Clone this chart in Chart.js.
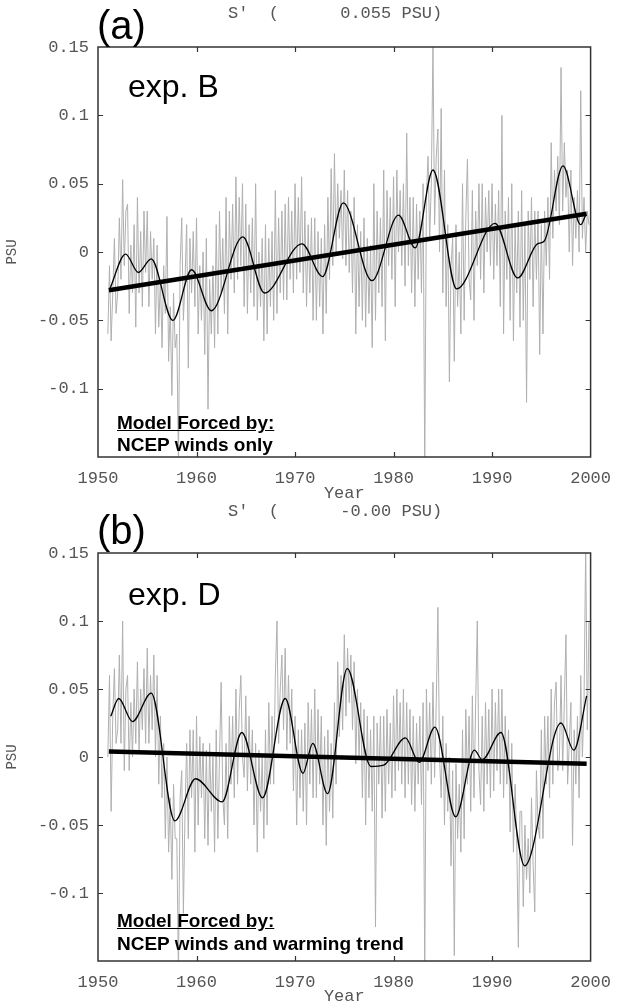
<!DOCTYPE html>
<html><head><meta charset="utf-8">
<script src="https://cdn.jsdelivr.net/npm/chart.js@4.4.0/dist/chart.umd.min.js"></script>
<style>
html,body{margin:0;padding:0;background:#fff}
body{width:622px;height:1007px;overflow:hidden;position:relative;font-family:"Liberation Sans",Arial,sans-serif}
.pan{position:absolute;left:0;width:622px}
canvas{display:block}
.t{position:absolute;white-space:pre;line-height:1;color:#000}
.mono{font-family:"Liberation Mono","Courier New",monospace;color:#555}
.big{font-size:40px}
.exp{font-size:32px}
.mf{font-size:19px;font-weight:bold}
.u{text-decoration:underline}
</style></head><body>
<div class="pan" style="top:0;height:504px"><canvas id="ca" width="622" height="504"></canvas></div>
<div class="pan" style="top:503px;height:504px"><canvas id="cb" width="622" height="504"></canvas></div>

<div class="t big" style="left:97px;top:5px">(a)</div>
<div class="t mono" style="left:228px;top:5px;font-size:17px">S'  (      0.055 PSU)</div>
<div class="t exp" style="left:128px;top:70px">exp. B</div>
<div class="t mf u" style="left:117px;top:413px">Model Forced by:</div>
<div class="t mf" style="left:117px;top:435px">NCEP winds only</div>

<div class="t big" style="left:97px;top:510px">(b)</div>
<div class="t mono" style="left:228px;top:503px;font-size:17px">S'  (      -0.00 PSU)</div>
<div class="t exp" style="left:128px;top:578px">exp. D</div>
<div class="t mf u" style="left:117px;top:911px">Model Forced by:</div>
<div class="t mf" style="left:117px;top:934px">NCEP winds and warming trend</div>

<script>
// ---------- data ----------
const xTickValues = [1950, 1960, 1970, 1980, 1990, 2000];
const xTickLabels = ['1950', '1960', '1970', '1980', '1990', '2000'];
const yTickValues = [-0.15, -0.1, -0.05, 0, 0.05, 0.1, 0.15];
const yTickLabels = ['', '-0.1', '-0.05', '0', '0.05', '0.1', '0.15'];

const grayStartYear = 1951;
const grayStepYears = 1 / 6;   // bimonthly samples, one row per year

const grayA = [
 -0.060,-0.010,-0.065,-0.030, 0.010,-0.045,
 -0.030, 0.025,-0.020, 0.053,-0.010, 0.030,
  0.035,-0.045, 0.005,-0.030, 0.020,-0.055,
  0.040,-0.030, 0.015,-0.040, 0.030,-0.015,
  0.030,-0.040, 0.015,-0.020, 0.010,-0.060,
  0.005,-0.055,-0.020,-0.070,-0.010,-0.045,
  0.026,-0.080,-0.040,-0.105,-0.030,-0.070,
 -0.060,-0.155,-0.010, 0.025,-0.050,-0.020,
  0.020,-0.085, 0.010,-0.030, 0.015,-0.040,
  0.025,-0.060,-0.010,-0.050, 0.000,-0.075,
  0.010,-0.115,-0.020,-0.060,-0.010,-0.070,
  0.020,-0.060, 0.030,-0.030, 0.010,-0.045,
  0.040,-0.060, 0.030,-0.020, 0.035,-0.030,
  0.055,-0.020, 0.040,-0.010, 0.050,-0.040,
  0.035,-0.045, 0.020,-0.030, 0.025,-0.040,
  0.050,-0.050, 0.000,-0.040, 0.010,-0.065,
  0.020,-0.060, 0.010,-0.040, 0.015,-0.050,
  0.045,-0.045, 0.025,-0.030, 0.030,-0.035,
  0.035,-0.035, 0.040,-0.020, 0.030,-0.030,
  0.050,-0.020, 0.040,-0.015, 0.055,-0.030,
  0.030,-0.040, 0.020,-0.030, 0.025,-0.050,
  0.025,-0.050, 0.015,-0.040, 0.010,-0.060,
  0.020,-0.045, 0.040,-0.020, 0.061,-0.010,
  0.072, 0.000, 0.050, 0.010, 0.045,-0.005,
  0.060,-0.010, 0.045,-0.015, 0.030,-0.030,
  0.040,-0.060, 0.020,-0.040, 0.015,-0.050,
  0.025,-0.055, 0.010,-0.045, 0.005,-0.070,
  0.050,-0.050, 0.030,-0.030, 0.025,-0.040,
  0.060,-0.065, 0.045,-0.010, 0.040,-0.020,
  0.055,-0.040, 0.060, 0.000, 0.045,-0.010,
  0.050,-0.025, 0.087,-0.010, 0.040,-0.030,
  0.040,-0.040, 0.035,-0.020, 0.030,-0.030,
  0.050,-0.160, 0.040, 0.070, 0.010, 0.050,
  0.152, 0.020, 0.070, 0.090, 0.000, 0.105,
 -0.030, 0.060,-0.040, 0.020,-0.095,-0.010,
  0.010,-0.080, 0.020,-0.040, 0.000,-0.060,
  0.050,-0.050, 0.025, 0.068,-0.020,-0.035,
  0.045,-0.050, 0.030,-0.010, 0.050,-0.020,
  0.050,-0.030, 0.040, 0.000, 0.045,-0.010,
  0.050,-0.020, 0.035,-0.010, 0.045,-0.040,
  0.100,-0.060, 0.030,-0.020, 0.040,-0.050,
  0.050,-0.065, 0.020,-0.030, 0.030,-0.055,
  0.045,-0.050, 0.020,-0.110, 0.030,-0.020,
  0.040,-0.040, 0.030,-0.020, 0.030,-0.075,
  0.020,-0.060, 0.030,-0.010, 0.040,-0.020,
  0.080, 0.010, 0.060, 0.030, 0.070, 0.020,
  0.135, 0.030, 0.080, 0.040, 0.060, 0.000,
  0.060,-0.010, 0.040, 0.010, 0.045, 0.000,
  0.118, 0.010, 0.040, 0.000, 0.030, 0.020
];
const smoothAYears = [1951.2,1952.8,1954.1,1955.4,1957.6,1959.5,1961.5,1964.7,1966.9,1970.7,1972.8,1974.9,1977.8,1980.5,1982.2,1984.0,1986.4,1990.3,1992.6,1994.6,1995.3,1997.2,1999.0,1999.5];
const smoothAValues = [-0.027,-0.0015,-0.015,-0.005,-0.050,-0.013,-0.043,0.011,-0.030,0.006,-0.018,0.036,-0.021,0.027,0.003,0.060,-0.027,0.021,-0.019,0.006,0.008,0.063,0.020,0.027];
const trendAYears = [1951.1, 1999.6];
const trendAValues = [-0.028, 0.028];

const grayB = [
  0.000, 0.060,-0.040, 0.030, 0.065, 0.010,
  0.020, 0.075, 0.010, 0.100,-0.010, 0.050,
  0.060,-0.010, 0.040, 0.000, 0.050, 0.010,
  0.070, 0.005, 0.050, 0.020, 0.065, 0.010,
  0.080, 0.010, 0.060, 0.020, 0.075, 0.000,
  0.060,-0.020, 0.030,-0.030, 0.010,-0.060,
  0.000,-0.070,-0.030,-0.090,-0.020,-0.060,
 -0.060,-0.160,-0.030,-0.010,-0.115,-0.040,
  0.010,-0.060, 0.020,-0.030, 0.020,-0.070,
  0.030,-0.050, 0.015,-0.030, 0.010,-0.060,
  0.005,-0.065, 0.010,-0.040, 0.000,-0.070,
  0.020,-0.060, 0.000, 0.055,-0.030,-0.050,
  0.010,-0.060, 0.030,-0.020, 0.030,-0.030,
  0.050,-0.020, 0.035, 0.060, 0.000,-0.015,
  0.045,-0.025, 0.030,-0.020, 0.020,-0.050,
  0.010,-0.070, 0.005,-0.040, 0.000,-0.060,
  0.020,-0.050, 0.040,-0.020, 0.030,-0.020,
  0.060, 0.100, 0.010, 0.050, 0.075, 0.020,
  0.080, 0.005, 0.060, 0.010, 0.050,-0.025,
  0.030,-0.050, 0.020,-0.030, 0.020,-0.040,
  0.025,-0.050, 0.040,-0.020, 0.035,-0.030,
  0.050,-0.030, 0.035,-0.020, 0.030,-0.050,
  0.015,-0.065, 0.020,-0.040, 0.010,-0.045,
  0.040,-0.020, 0.070, 0.015, 0.060, 0.020,
  0.090, 0.030, 0.080, 0.040, 0.075, 0.020,
  0.070,-0.005, 0.050, 0.000, 0.040,-0.030,
  0.035,-0.050, 0.030,-0.030, 0.020,-0.040,
  0.030,-0.125, 0.025,-0.020, 0.030,-0.045,
  0.030,-0.040, 0.035,-0.020, 0.025,-0.030,
  0.045,-0.025, 0.050,-0.010, 0.040,-0.020,
  0.050,-0.030, 0.040,-0.020, 0.035,-0.035,
  0.030,-0.040, 0.025,-0.020, 0.030,-0.035,
  0.040,-0.160, 0.050,-0.010, 0.040,-0.020,
  0.055,-0.015, 0.040, 0.110, 0.000,-0.030,
  0.030,-0.050, 0.010,-0.040, 0.000,-0.080,
 -0.010,-0.146,-0.005,-0.060,-0.020,-0.070,
  0.020,-0.060, 0.035,-0.020, 0.030,-0.040,
  0.045,-0.030, 0.040, 0.100,-0.010,-0.035,
  0.030,-0.040, 0.040,-0.020, 0.035,-0.030,
  0.050,-0.025, 0.040,-0.010, 0.050,-0.020,
  0.050,-0.030, 0.030,-0.020, 0.020,-0.055,
  0.010,-0.070,-0.020,-0.060,-0.140,-0.040,
 -0.040,-0.110,-0.050,-0.090,-0.060,-0.100,
 -0.030,-0.080,-0.114,-0.010,-0.050,-0.060,
  0.020,-0.060, 0.030,-0.020, 0.030,-0.030,
  0.050,-0.020, 0.040, 0.055,-0.010, 0.000,
  0.060,-0.010, 0.040, 0.090,-0.020, 0.010,
  0.040,-0.065, 0.020,-0.020, 0.030,-0.030,
  0.060, 0.000, 0.040, 0.155, 0.020, 0.100
];
const smoothBYears = [1951.3,1952.1,1953.5,1955.4,1957.8,1959.9,1962.6,1964.6,1966.7,1969.0,1970.8,1971.8,1973.3,1975.3,1977.7,1979.0,1981.2,1982.6,1984.2,1986.3,1988.2,1989.0,1990.9,1993.3,1997.0,1998.3,1999.6];
const smoothBValues = [0.030,0.043,0.026,0.047,-0.047,-0.016,-0.033,0.018,-0.030,0.043,-0.012,0.010,-0.027,0.065,-0.007,-0.006,0.014,-0.004,0.022,-0.044,0.005,-0.002,0.018,-0.080,0.025,0.005,0.045];
const trendBYears = [1951.1, 1999.6];
const trendBValues = [0.004, -0.005];

// ---------- helpers ----------
const toPts = (xs, ys) => ys.map((v, i) => ({x: xs[i], y: v}));
const grayPts = arr => arr.map((v, i) => ({x: grayStartYear + i * grayStepYears, y: v}));
const mono = '"Liberation Mono","Courier New",monospace';

const framePlugin = {
  id: 'frame',
  afterDatasetsDraw(chart) {
    const {ctx, chartArea: a, scales: {x, y}} = chart;
    ctx.save();
    ctx.lineWidth = 1.5;
    ctx.strokeStyle = '#333';
    ctx.strokeRect(a.left, a.top, a.right - a.left, a.bottom - a.top);
    ctx.lineWidth = 1.2;
    const L = 5;
    ctx.beginPath();
    xTickValues.slice(1, -1).forEach(v => {
      const px = Math.round(x.getPixelForValue(v)) + 0.5;
      ctx.moveTo(px, a.top); ctx.lineTo(px, a.top + L);
      ctx.moveTo(px, a.bottom); ctx.lineTo(px, a.bottom - L);
    });
    yTickValues.slice(1, -1).forEach(v => {
      const py = Math.round(y.getPixelForValue(v)) + 0.5;
      ctx.moveTo(a.left, py); ctx.lineTo(a.left + L, py);
      ctx.moveTo(a.right, py); ctx.lineTo(a.right - L, py);
    });
    ctx.stroke();
    ctx.restore();
  }
};

function makeChart(id, gray, sy, sv, ty, tv, topPad, xh) {
  return new Chart(document.getElementById(id), {
    type: 'line',
    data: {
      datasets: [
        {data: grayPts(gray), borderColor: '#b0b0b0', borderWidth: 1, pointRadius: 0, tension: 0, order: 3},
        {data: toPts(sy, sv), borderColor: '#000', borderWidth: 1.3, pointRadius: 0, cubicInterpolationMode: 'monotone', order: 2},
        {data: toPts(ty, tv), borderColor: '#000', borderWidth: 4.5, pointRadius: 0, tension: 0, order: 1}
      ]
    },
    options: {
      responsive: false, animation: false, devicePixelRatio: 1,
      layout: {padding: {left: 0, right: 29, top: topPad, bottom: 0}},
      plugins: {legend: {display: false}, tooltip: {enabled: false}},
      scales: {
        x: {
          type: 'linear', min: 1950, max: 2000, position: 'bottom',
          afterBuildTicks: s => { s.ticks = xTickValues.map(v => ({value: v})); },
          afterFit: s => { s.height = xh; },
          grid: {display: false, drawTicks: false}, border: {display: false},
          ticks: {
            padding: 11, color: '#555', font: {family: mono, size: 17}, maxRotation: 0, autoSkip: false,
            callback: v => { const i = xTickValues.indexOf(Math.round(v)); return i >= 0 ? xTickLabels[i] : ''; }
          },
          title: {display: true, text: 'Year', color: '#555', font: {family: mono, size: 17}, padding: {top: 0, bottom: 0}}
        },
        y: {
          type: 'linear', min: -0.15, max: 0.15,
          afterBuildTicks: s => { s.ticks = yTickValues.map(v => ({value: v})); },
          afterFit: s => { s.width = 98; },
          grid: {display: false, drawTicks: false}, border: {display: false},
          ticks: {
            padding: 9, color: '#555', font: {family: mono, size: 17}, autoSkip: false,
            callback: v => { const i = yTickValues.findIndex(t => Math.abs(t - v) < 1e-9); return i >= 0 ? yTickLabels[i] : ''; }
          },
          title: {display: true, text: 'PSU', color: '#555', font: {family: mono, size: 14}, padding: {top: 4, bottom: 0}}
        }
      }
    },
    plugins: [framePlugin]
  });
}

makeChart('ca', grayA, smoothAYears, smoothAValues, trendAYears, trendAValues, 47, 47);
makeChart('cb', grayB, smoothBYears, smoothBValues, trendBYears, trendBValues, 50, 46);
</script>
</body></html>
